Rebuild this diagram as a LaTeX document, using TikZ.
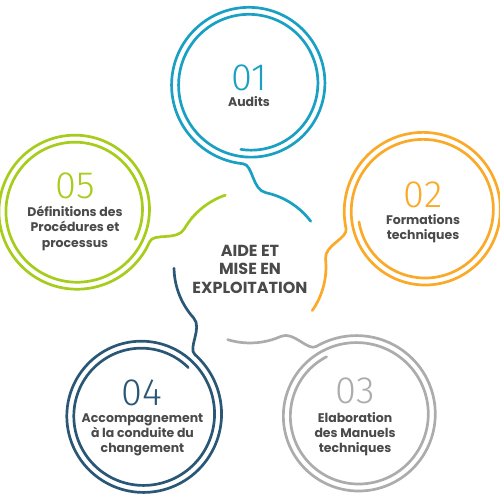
\documentclass[tikz,border=0pt]{standalone}
\usepackage{fontspec}
\setmainfont{Poppins}
\newfontfamily\numfont{Fira Sans Light}
\definecolor{cteal}{RGB}{26,160,194}
\definecolor{corange}{RGB}{250,170,40}
\definecolor{cgray}{RGB}{172,172,172}
\definecolor{cblue}{RGB}{43,87,119}
\definecolor{cgreen}{RGB}{166,204,28}
\definecolor{labgray}{RGB}{74,74,74}
\tikzset{
  ring/.style={line width=2.7pt, line cap=round, line join=round},
  numtxt/.style={anchor=base, inner sep=0pt, text depth=0pt, text height=26pt, font=\numfont\fontsize{38}{38}\selectfont},
  labtxt/.style={anchor=base, inner sep=0pt, text depth=0pt, text height=9pt, text=labgray, font=\bfseries\fontsize{12.5}{15}\selectfont},
  centtxt/.style={anchor=base, inner sep=0pt, text=labgray, font=\bfseries\fontsize{16}{18}\selectfont},
}
\newcommand\spiralgroup[2]{%
  \begin{scope}[rotate=#1]
    \draw[ring, draw=#2] plot[domain=262:985, samples=400, variable=\ang]
      ({(66+(\ang-262)*7/360)*cos(\ang)}, {183+(66+(\ang-262)*7/360)*sin(\ang)})
      .. controls (3.0,102.4) and (2.1,77.2) .. (15.8,74.3)
      arc[start angle=78, end angle=37, radius=76pt];
  \end{scope}}
\begin{document}
\begin{tikzpicture}[x=1pt,y=1pt]
\useasboundingbox (-250,-233) rectangle (250,267);
\coordinate (c0) at (0,0);
\spiralgroup{0}{cteal}
\spiralgroup{-72}{corange}
\spiralgroup{-144}{cgray}
\spiralgroup{-216}{cblue}
\spiralgroup{-288}{cgreen}
% centre
\node[centtxt] (ct1) at (0,10.3) {AIDE ET};
\node[centtxt] (ct2) at (0,-8) {MISE EN};
\node[centtxt] (ct3) at (0,-27) {EXPLOITATION};
% 01
\node[numtxt, text=cteal] (n1) at (-1,176.5) {01};
\node[labtxt] (l1a) at (-1,160) {Audits};
% 02
\node[numtxt, text=corange] (n2) at (173,59.5) {02};
\node[labtxt] (l2a) at (173,42) {Formations};
\node[labtxt] (l2b) at (173,27) {techniques};
% 03
\node[numtxt, text=cgray] (n3) at (105,-136.5) {03};
\node[labtxt] (l3a) at (105,-155) {Elaboration};
\node[labtxt] (l3b) at (105,-170.5) {des Manuels};
\node[labtxt] (l3c) at (105,-185.5) {techniques};
% 04
\node[numtxt, text=cblue] (n4) at (-108,-138.5) {04};
\node[labtxt] (l4a) at (-107.5,-155) {Accompagnement};
\node[labtxt] (l4b) at (-107.5,-170.5) {à la conduite du};
\node[labtxt] (l4c) at (-107.5,-185.5) {changement};
% 05
\node[numtxt, text=cgreen] (n5) at (-175,68.5) {05};
\node[labtxt] (l5a) at (-175,50) {Définitions des};
\node[labtxt] (l5b) at (-175,35) {Procédures et};
\node[labtxt] (l5c) at (-175,19.5) {processus};
\end{tikzpicture}
\end{document}
